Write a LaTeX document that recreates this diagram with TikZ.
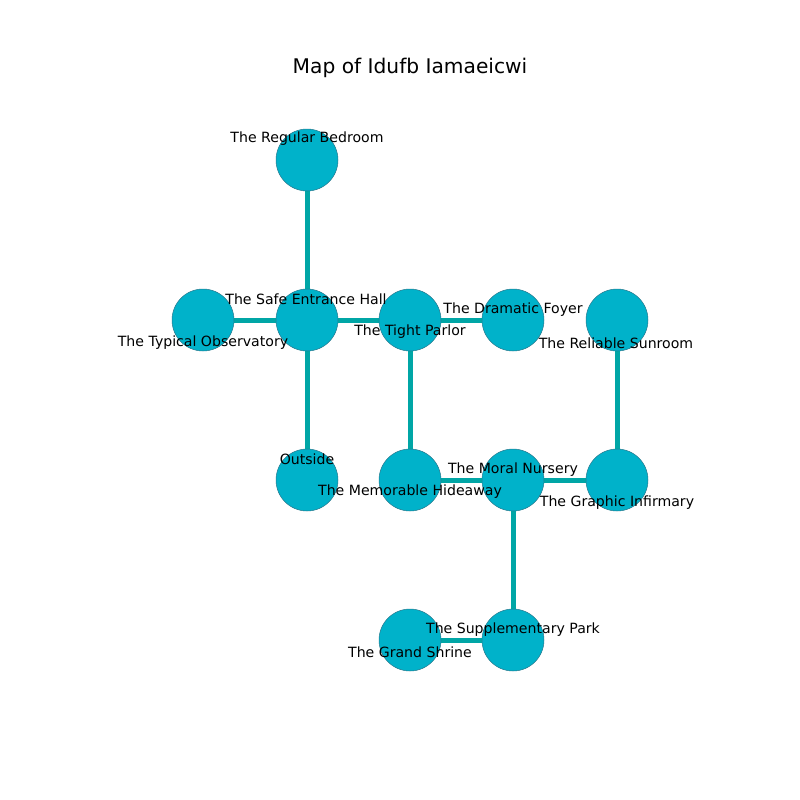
\documentclass[tikz,border=0pt]{standalone}
\usepackage{fontspec}
\setmainfont{DejaVu Sans}
\usetikzlibrary{backgrounds}
\definecolor{nodefill}{RGB}{0,178,202}
\definecolor{nodeedge}{RGB}{40,120,140}
\definecolor{edgecol}{RGB}{0,166,166}
\begin{document}
\begin{tikzpicture}[x=1pt,y=-1pt,
  room/.style={circle,fill=nodefill,draw=nodeedge,line width=0.5pt,minimum size=62pt,inner sep=0pt},
  link/.style={draw=edgecol,line width=5pt},
  lbl/.style={font=\fontsize{14.1}{16}\selectfont,inner sep=0pt,anchor=center}]
\useasboundingbox (0,0) rectangle (800,800);
\node[font=\fontsize{20.2}{24}\selectfont] (title) at (410,68) {Map of Idufb Iamaeicwi};
% nodes
\node[room] (bed) at (307,160) {};
\node[room] (hall) at (307,320) {};
\node[room] (obs) at (203,320) {};
\node[room] (parlor) at (410,320) {};
\node[room] (foyer) at (513,320) {};
\node[room] (sun) at (617,320) {};
\node[room] (out) at (307,480) {};
\node[room] (hide) at (410,480) {};
\node[room] (nurs) at (513,480) {};
\node[room] (inf) at (617,480) {};
\node[room] (park) at (513,640) {};
\node[room] (shrine) at (410,640) {};
% edges behind nodes
\begin{scope}[on background layer]
\draw[link] (bed) -- (hall);
\draw[link] (obs) -- (hall);
\draw[link] (hall) -- (parlor);
\draw[link] (parlor) -- (foyer);
\draw[link] (hall) -- (out);
\draw[link] (parlor) -- (hide);
\draw[link] (hide) -- (nurs);
\draw[link] (nurs) -- (inf);
\draw[link] (sun) -- (inf);
\draw[link] (nurs) -- (park);
\draw[link] (park) -- (shrine);
\end{scope}
% labels
\node[lbl] (lbed) at (307,139) {The Regular Bedroom};
\node[lbl] (lhall) at (306,299) {The Safe Entrance Hall};
\node[lbl] (lobs) at (203,343) {The Typical Observatory};
\node[lbl] (lparlor) at (410,332) {The Tight Parlor};
\node[lbl] (lfoyer) at (513,310) {The Dramatic Foyer};
\node[lbl] (lsun) at (616,343) {The Reliable Sunroom};
\node[lbl] (lout) at (307,459) {Outside};
\node[lbl] (lhide) at (410,492) {The Memorable Hideaway};
\node[lbl] (lnurs) at (513,470) {The Moral Nursery};
\node[lbl] (linf) at (617,503) {The Graphic Infirmary};
\node[lbl] (lpark) at (513,630) {The Supplementary Park};
\node[lbl] (lshrine) at (410,652) {The Grand Shrine};
\end{tikzpicture}
\end{document}
